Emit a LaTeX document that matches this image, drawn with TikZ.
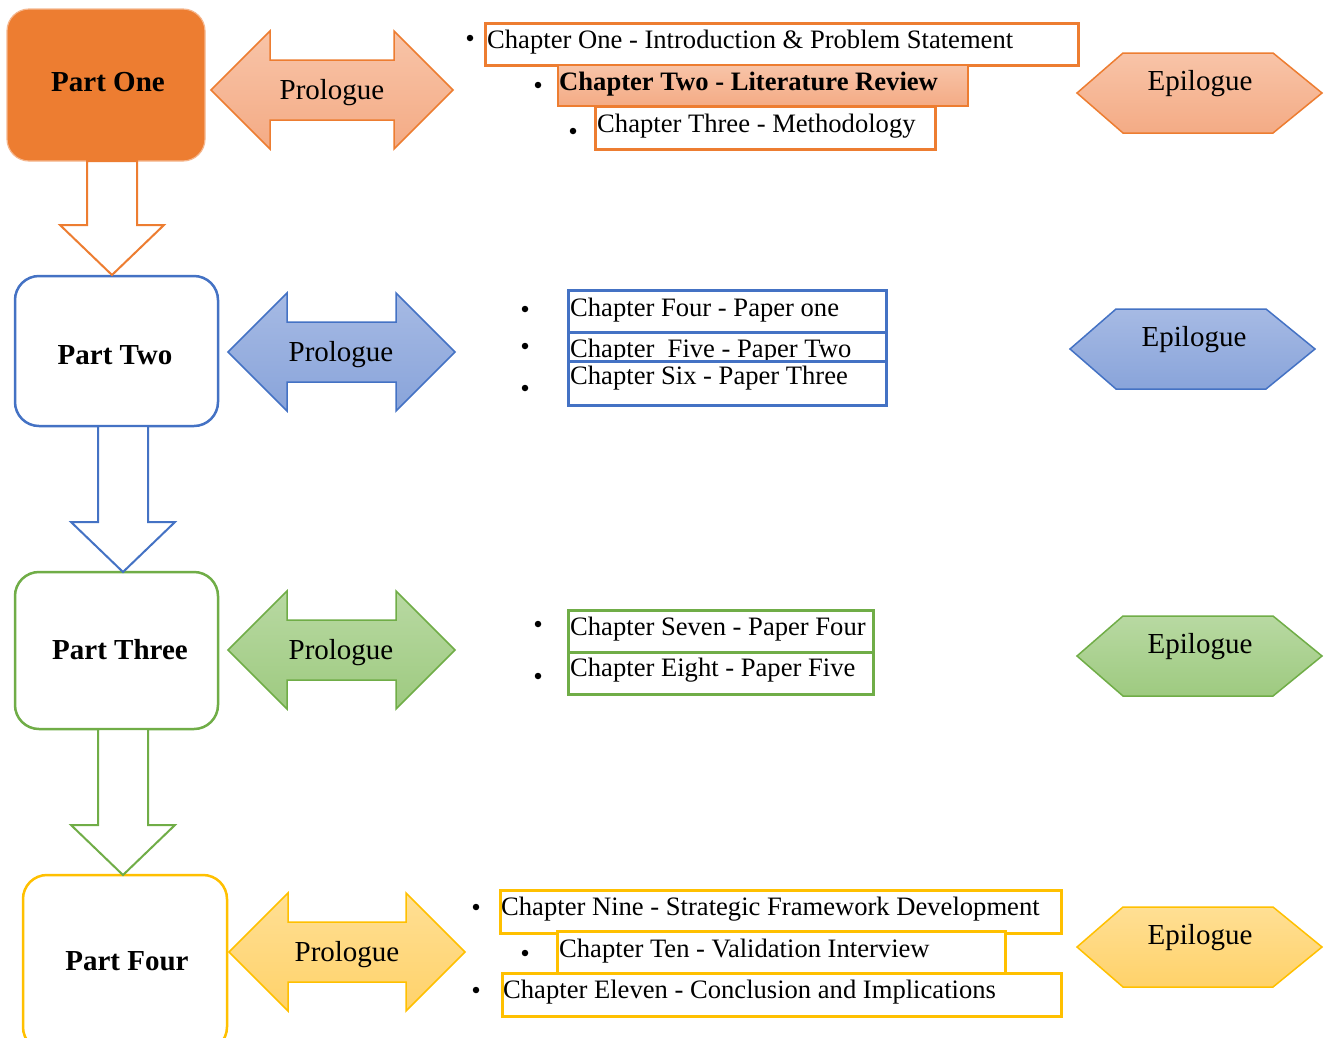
\documentclass[tikz,border=0pt]{standalone}
\usepackage{fontspec}
\setmainfont{Liberation Serif}

\definecolor{orangeline}{HTML}{ED7D31}
\definecolor{orangetop}{HTML}{F8C4A8}
\definecolor{orangebot}{HTML}{F4AB85}
\definecolor{blueline}{HTML}{4472C4}
\definecolor{bluetop}{HTML}{A6BAE4}
\definecolor{bluebot}{HTML}{89A4DA}
\definecolor{greenline}{HTML}{70AD47}
\definecolor{greentop}{HTML}{B8D9A2}
\definecolor{greenbot}{HTML}{9ECA80}
\definecolor{yellowline}{HTML}{FFC000}
\definecolor{yellowtop}{HTML}{FFDF94}
\definecolor{yellowbot}{HTML}{FFD26A}

% downward block arrow: colour, tip x, tip y, shaft top y
\newcommand{\downblock}[4]{%
  \draw[#1, line width=2pt, fill=white, line join=miter]
    (#2-25,#4) -- (#2+25,#4) -- (#2+25,#3-50) -- (#2+52,#3-50) -- (#2,#3)
    -- (#2-52,#3-50) -- (#2-25,#3-50) -- cycle;}

% left-right block arrow: style, left tip x, middle y, right tip x
\newcommand{\twoway}[4]{%
  \draw[#1] (#2,#3) -- (#2+59,#3-59) -- (#2+59,#3-30) -- (#4-59,#3-30)
    -- (#4-59,#3-59) -- (#4,#3) -- (#4-59,#3+59) -- (#4-59,#3+30)
    -- (#2+59,#3+30) -- (#2+59,#3+59) -- cycle;}

% hexagon: style, left x, middle y
\newcommand{\hexblock}[3]{%
  \draw[#1] (#2,#3) -- (#2+46,#3-40) -- (#2+196,#3-40) -- (#2+245,#3)
    -- (#2+196,#3+40) -- (#2+46,#3+40) -- cycle;}

\begin{document}
\begin{tikzpicture}[x=1pt,y=-1pt,
  chtext/.style={anchor=base west, inner sep=0pt, font=\fontsize{26.6}{30}\selectfont},
  bigtext/.style={anchor=base, inner sep=0pt, font=\fontsize{29}{34}\selectfont},
  parttext/.style={anchor=base, inner sep=0pt, font=\fontsize{29}{33}\selectfont\bfseries},
  dot/.style={circle, fill=black, inner sep=0pt, minimum size=6.5pt},
  chbox/.style={rectangle, anchor=north west, inner sep=0pt, line width=2.5pt, fill=white},
  partbox/.style={rectangle, rounded corners=24pt, line width=2.5pt, fill=white, inner sep=0pt},
  blockline/.style={line width=1.5pt, line join=miter},
  orangeblock/.style={blockline, draw=orangeline, top color=orangetop, bottom color=orangebot},
  blueblock/.style={blockline, draw=blueline, top color=bluetop, bottom color=bluebot},
  greenblock/.style={blockline, draw=greenline, top color=greentop, bottom color=greenbot},
  yellowblock/.style={blockline, draw=yellowline, top color=yellowtop, bottom color=yellowbot}]

\useasboundingbox (0,0) rectangle (1333,1037);
\clip (0,0) rectangle (1333,1037);
\fill[white] (0,0) rectangle (1333,1037);

% ---------- the four parts ----------
\node[partbox, rounded corners=22pt, fill=orangeline, draw=orangeline!55!white, line width=1.2pt,
      minimum width=198pt, minimum height=152pt] (part1) at (106,85) {};
\node[parttext] (part1t) at (108,91) {Part One};

\node[partbox, draw=blueline, minimum width=203pt, minimum height=150pt] (part2) at (116.5,351) {};
\node[parttext] (part2t) at (115,364) {Part Two};

\node[partbox, draw=greenline, minimum width=203pt, minimum height=157pt] (part3) at (116.5,650.5) {};
\node[parttext] (part3t) at (120,659) {Part Three};

\node[partbox, draw=yellowline, minimum width=204pt, minimum height=176pt] (part4) at (125,963) {};
\node[parttext] (part4t) at (127,970) {Part Four};

% ---------- arrows between parts ----------
\downblock{orangeline}{112}{275}{161}
\downblock{blueline}{123}{572}{426}
\downblock{greenline}{123}{875}{729}

% ---------- prologues ----------
\twoway{orangeblock}{211}{90}{453}
\node[bigtext] (pro1) at (332,99) {Prologue};
\twoway{blueblock}{228}{352}{455}
\node[bigtext] (pro2) at (341,361) {Prologue};
\twoway{greenblock}{228}{650}{455}
\node[bigtext] (pro3) at (341,659) {Prologue};
\twoway{yellowblock}{229}{952}{465}
\node[bigtext] (pro4) at (347,961) {Prologue};

% ---------- epilogues ----------
\hexblock{orangeblock}{1077}{93}
\node[bigtext] (epi1) at (1200,90) {Epilogue};
\hexblock{blueblock}{1070}{349}
\node[bigtext] (epi2) at (1194,346) {Epilogue};
\hexblock{greenblock}{1077}{656}
\node[bigtext] (epi3) at (1200,653) {Epilogue};
\hexblock{yellowblock}{1077}{947}
\node[bigtext] (epi4) at (1200,944) {Epilogue};

% ---------- chapters of part one ----------
\node[chbox, draw=orangeline, minimum width=593pt, minimum height=42pt] (c1box) at (484,22) {};
\node[chtext] (c1) at (487,48) {Chapter One - Introduction \& Problem Statement};
\node[dot] (d1) at (470,38) {};

\node[chbox, draw=orangeline, line width=1.5pt, top color=orangetop, bottom color=orangebot,
      minimum width=410pt, minimum height=41pt] (c2box) at (557,64) {};
\node[chtext, font=\fontsize{26.6}{30}\selectfont\bfseries] (c2) at (559,90) {Chapter Two - Literature Review};
\node[dot] (d2) at (538,85) {};

\node[chbox, draw=orangeline, minimum width=340pt, minimum height=43pt] (c3box) at (594,105) {};
\node[chtext] (c3) at (597,132) {Chapter Three - Methodology};
\node[dot] (d3) at (573,131) {};

% ---------- chapters of part two ----------
\node[chbox, draw=blueline, minimum width=318pt, minimum height=42pt] (c4box) at (567,289) {};
\node[chtext] (c4) at (570,316) {Chapter Four - Paper one};
\node[dot] (d4) at (525,309) {};

\node[chbox, draw=blueline, minimum width=318pt, minimum height=29pt] (c5box) at (567,331) {};
\node[chtext] (c5) at (570,357) {Chapter\ \ Five - Paper Two};
\node[dot] (d5) at (525,346) {};

\node[chbox, draw=blueline, minimum width=318pt, minimum height=44pt] (c6box) at (567,360) {};
\node[chtext] (c6) at (570,384) {Chapter Six - Paper Three};
\node[dot] (d6) at (525,388) {};

% ---------- chapters of part three ----------
\node[chbox, draw=greenline, minimum width=305pt, minimum height=42pt] (c7box) at (567,609) {};
\node[chtext] (c7) at (570,635) {Chapter Seven - Paper Four};
\node[dot] (d7) at (538,624) {};

\node[chbox, draw=greenline, minimum width=305pt, minimum height=42pt] (c8box) at (567,651) {};
\node[chtext] (c8) at (570,676) {Chapter Eight - Paper Five};
\node[dot] (d8) at (538,676) {};

% ---------- chapters of part four ----------
\node[chbox, draw=yellowline, minimum width=561pt, minimum height=43pt] (c9box) at (499,889) {};
\node[chtext] (c9) at (501,915) {Chapter Nine - Strategic Framework Development};
\node[dot] (d9) at (476,907) {};

\node[chbox, draw=yellowline, minimum width=448pt, minimum height=42pt] (c10box) at (556,930) {};
\node[chtext] (c10) at (559,957) {Chapter Ten - Validation Interview};
\node[dot] (d10) at (525,953) {};

\node[chbox, draw=yellowline, minimum width=559pt, minimum height=43pt] (c11box) at (501,972) {};
\node[chtext] (c11) at (503,998) {Chapter Eleven - Conclusion and Implications};
\node[dot] (d11) at (476,990) {};

\end{tikzpicture}
\end{document}
